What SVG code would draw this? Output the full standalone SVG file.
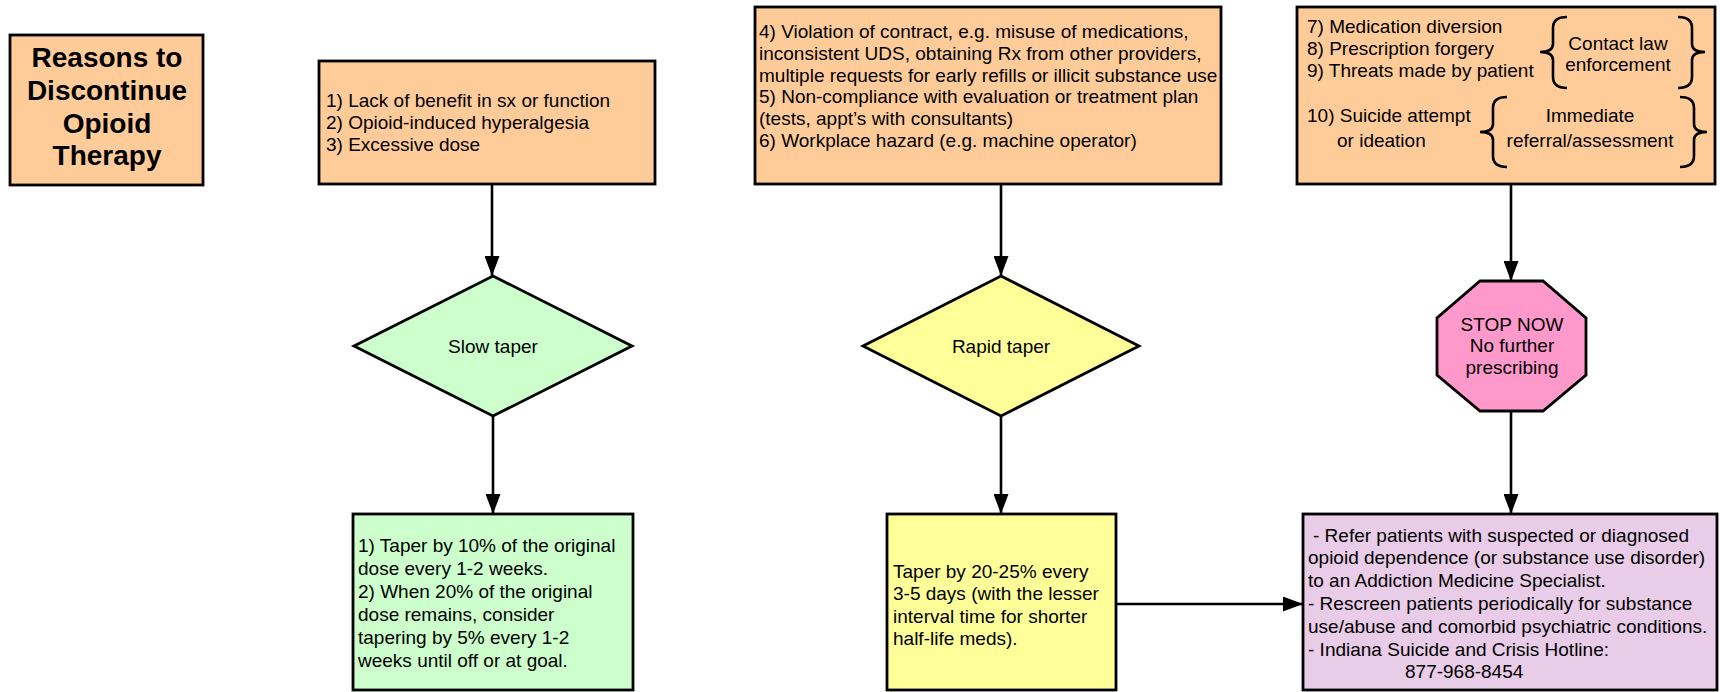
<svg xmlns="http://www.w3.org/2000/svg" width="1720" height="692" viewBox="0 0 1720 692">
<style>
  .box { stroke: #000; stroke-width: 2.8; }
  .orange { fill: #FFCC99; }
  .green { fill: #CCFFCC; }
  .yellow { fill: #FFFF99; }
  .pink { fill: #FF99CC; }
  .purple { fill: #E8CCE8; }
  text { font-family: "Liberation Sans", Arial, sans-serif; font-size: 19px; fill: #000; }
  .title { font-weight: bold; font-size: 28px; text-anchor: middle; }
  .mid { text-anchor: middle; }
  .conn { stroke: #000; stroke-width: 2.6; fill: none; }
  .brace { stroke: #000; stroke-width: 2.6; fill: none; }
</style>
<defs>
  <marker id="ah" markerUnits="userSpaceOnUse" markerWidth="21" markerHeight="15" refX="20" refY="7.5" orient="auto">
    <path d="M0,0 L20,7.5 L0,15 z" fill="#000"/>
  </marker>
</defs>
<rect width="1720" height="692" fill="#fff"/>

<g id="title">
  <rect class="box orange" x="10" y="35" width="193" height="150"/>
  <text class="title" x="107" y="67">Reasons to</text>
  <text class="title" x="107" y="100">Discontinue</text>
  <text class="title" x="107" y="133">Opioid</text>
  <text class="title" x="107" y="165">Therapy</text>
</g>

<g id="reasons1">
  <rect class="box orange" x="319" y="61" width="336" height="123"/>
  <text x="326" y="107">1) Lack of benefit in sx or function</text>
  <text x="326" y="129">2) Opioid-induced hyperalgesia</text>
  <text x="326" y="151">3) Excessive dose</text>
</g>

<g id="reasons2">
  <rect class="box orange" x="755" y="7" width="466" height="177"/>
  <text x="759" y="38">4) Violation of contract, e.g. misuse of medications,</text>
  <text x="759" y="60">inconsistent UDS, obtaining Rx from other providers,</text>
  <text x="759" y="82">multiple requests for early refills or illicit substance use</text>
  <text x="759" y="103">5) Non-compliance with evaluation or treatment plan</text>
  <text x="759" y="125">(tests, appt’s with consultants)</text>
  <text x="759" y="147">6) Workplace hazard (e.g. machine operator)</text>
</g>

<g id="reasons3">
  <rect class="box orange" x="1297" y="7" width="418" height="177"/>
  <text x="1307" y="33">7) Medication diversion</text>
  <text x="1307" y="55">8) Prescription forgery</text>
  <text x="1307" y="77">9) Threats made by patient</text>
  <path class="brace" d="M1567,17 Q1553,17 1553,28 L1553,44 Q1553,52 1540,52 Q1553,52 1553,60 L1553,77 Q1553,88 1567,88"/>
  <text class="mid" x="1618" y="50">Contact law</text>
  <text class="mid" x="1618" y="71">enforcement</text>
  <path class="brace" d="M1678,17 Q1692,17 1692,28 L1692,44 Q1692,52 1705,52 Q1692,52 1692,60 L1692,77 Q1692,88 1678,88"/>
  <text x="1307" y="122">10) Suicide attempt</text>
  <text x="1337" y="147">or ideation</text>
  <path class="brace" d="M1507,97 Q1493,97 1493,108 L1493,124 Q1493,132 1480,132 Q1493,132 1493,140 L1493,156 Q1493,167 1507,167"/>
  <text class="mid" x="1590" y="122">Immediate</text>
  <text class="mid" x="1590" y="147">referral/assessment</text>
  <path class="brace" d="M1680,97 Q1694,97 1694,108 L1694,124 Q1694,132 1707,132 Q1694,132 1694,140 L1694,156 Q1694,167 1680,167"/>
</g>

<g id="slow-taper">
  <polygon class="box green" points="493,276 632,346 493,416 354,346"/>
  <text class="mid" x="493" y="353">Slow taper</text>
</g>

<g id="rapid-taper">
  <polygon class="box yellow" points="1001,276 1139,346 1001,416 863,346"/>
  <text class="mid" x="1001" y="353">Rapid taper</text>
</g>

<g id="stop-now">
  <polygon class="box pink" points="1480,281 1543,281 1586,318 1586,375 1543,411 1480,411 1437,375 1437,318"/>
  <text class="mid" x="1512" y="331">STOP NOW</text>
  <text class="mid" x="1512" y="352">No further</text>
  <text class="mid" x="1512" y="374">prescribing</text>
</g>

<g id="slow-plan">
  <rect class="box green" x="353" y="514" width="280" height="176"/>
  <text x="358" y="552">1) Taper by 10% of the original</text>
  <text x="358" y="575">dose every 1-2 weeks.</text>
  <text x="358" y="598">2) When 20% of the original</text>
  <text x="358" y="621">dose remains, consider</text>
  <text x="358" y="644">tapering by 5% every 1-2</text>
  <text x="358" y="667">weeks until off or at goal.</text>
</g>

<g id="rapid-plan">
  <rect class="box yellow" x="887" y="514" width="229" height="176"/>
  <text x="893" y="578">Taper by 20-25% every</text>
  <text x="893" y="600">3-5 days (with the lesser</text>
  <text x="893" y="623">interval time for shorter</text>
  <text x="893" y="645">half-life meds).</text>
</g>

<g id="referral">
  <rect class="box purple" x="1303" y="514" width="414" height="176"/>
  <text x="1313" y="542">- Refer patients with suspected or diagnosed</text>
  <text x="1308" y="564">opioid dependence (or substance use disorder)</text>
  <text x="1308" y="587">to an Addiction Medicine Specialist.</text>
  <text x="1308" y="610">- Rescreen patients periodically for substance</text>
  <text x="1308" y="633">use/abuse and comorbid psychiatric conditions.</text>
  <text x="1308" y="656">- Indiana Suicide and Crisis Hotline:</text>
  <text x="1405" y="678">877-968-8454</text>
</g>

<g id="connectors">
  <line class="conn" x1="492" y1="184" x2="492" y2="276" marker-end="url(#ah)"/>
  <line class="conn" x1="493" y1="416" x2="493" y2="514" marker-end="url(#ah)"/>
  <line class="conn" x1="1001" y1="184" x2="1001" y2="276" marker-end="url(#ah)"/>
  <line class="conn" x1="1001" y1="416" x2="1001" y2="514" marker-end="url(#ah)"/>
  <line class="conn" x1="1511" y1="184" x2="1511" y2="281" marker-end="url(#ah)"/>
  <line class="conn" x1="1511" y1="411" x2="1511" y2="514" marker-end="url(#ah)"/>
  <line class="conn" x1="1116" y1="604" x2="1303" y2="604" marker-end="url(#ah)"/>
</g>
</svg>
